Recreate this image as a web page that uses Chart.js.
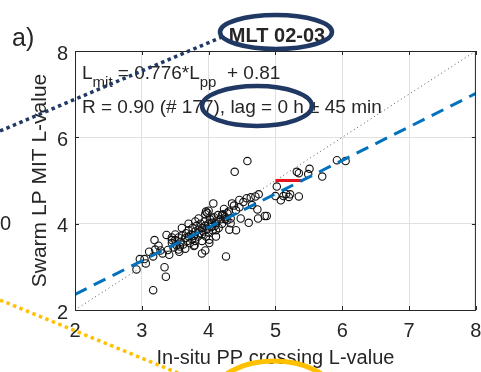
<!DOCTYPE html>
<html>
<head>
<meta charset="utf-8">
<script src="https://cdn.jsdelivr.net/npm/chart.js@4/dist/chart.umd.min.js"></script>
<style>
  html, body { margin: 0; padding: 0; background: #fff; }
  #wrap { width: 481px; height: 372px; position: relative; }
</style>
</head>
<body>
<div id="wrap"><canvas id="c" width="481" height="372"></canvas></div>
<script>
// Axis ticks
const xTickValues = [2, 3, 4, 5, 6, 7, 8];
const yTickValues = [2, 4, 6, 8];

// In-situ plasmapause crossing L (x) vs Swarm LP MIT L (y)
const insituL = [
  2.92, 2.97, 3.04, 3.06, 3.11, 3.17, 3.19, 3.25, 3.31, 3.34, 3.36, 3.17, 3.37, 3.39, 3.41,
  3.56, 3.57, 3.79, 3.90, 3.95, 4.01, 4.01, 4.11, 4.11, 4.11, 4.06, 3.96, 3.98, 4.07, 4.23,
  4.28, 4.33, 4.33, 4.26, 4.31, 4.41, 4.41, 4.46, 4.48, 4.60, 4.74, 4.84, 4.87, 4.73, 4.65,
  4.57, 4.63, 4.70, 4.75, 4.39, 4.58, 5.02, 5.00, 5.08, 5.12, 5.16, 5.22, 5.20, 5.35, 5.32,
  5.35, 5.49, 5.51, 5.70, 5.92, 6.05,
  4.35, 4.46, 4.52, 4.38, 4.20, 4.25, 3.20, 3.28, 3.45, 3.48,
  3.45, 3.50, 3.52, 3.55, 3.58, 3.60, 3.62, 3.65, 3.66, 3.68, 3.70, 3.70, 3.72, 3.74, 3.75,
  3.76, 3.78, 3.80, 3.80, 3.82, 3.84, 3.85, 3.86, 3.88, 3.90, 3.90, 3.92, 3.94, 3.95, 3.96,
  3.98, 4.00, 4.00, 4.02, 4.04, 4.05, 4.06, 4.08, 4.10, 4.12, 4.14, 4.15, 4.18, 4.20, 4.22,
  4.25, 4.28, 4.30, 3.60, 3.70, 3.80, 3.85, 3.95, 4.00, 3.90, 3.78, 3.65, 3.55, 3.50, 3.45
];
const swarmL = [
  2.94, 3.18, 3.18, 3.08, 3.35, 3.24, 3.62, 3.49, 3.31, 2.99, 2.77, 2.46, 3.74, 3.39, 3.28,
  3.35, 3.47, 3.50, 3.31, 3.38, 3.55, 3.63, 3.70, 3.85, 4.01, 4.12, 4.28, 4.25, 4.47, 4.34,
  4.24, 4.12, 4.01, 3.24, 3.86, 3.85, 4.31, 4.38, 4.12, 4.02, 4.12, 4.18, 4.18, 4.33, 4.43,
  4.59, 4.61, 4.63, 4.68, 5.20, 5.45, 4.86, 4.64, 4.54, 4.64, 4.69, 4.68, 4.62, 4.63, 5.20,
  5.17, 5.15, 5.27, 5.09, 5.47, 5.45,
  4.47, 4.55, 4.50, 4.42, 4.20, 4.10, 3.40, 3.38, 3.62, 3.45,
  3.55, 3.62, 3.50, 3.68, 3.58, 3.72, 3.52, 3.66, 3.78, 3.60, 3.70, 3.85, 3.55, 3.75, 3.64,
  3.90, 3.72, 3.82, 3.60, 3.95, 3.70, 3.86, 3.78, 4.00, 3.90, 3.75, 3.82, 4.05, 3.95, 3.70,
  3.88, 4.00, 3.80, 4.10, 3.92, 4.02, 3.85, 4.15, 3.95, 4.05, 4.20, 3.90, 4.10, 4.00, 4.22,
  4.15, 4.08, 4.28, 3.90, 4.00, 4.05, 4.12, 4.22, 4.30, 3.60, 3.48, 3.42, 3.40, 3.75, 3.68
];

// Linear fit L_mit = slope * L_pp + intercept
const fitSlope = 0.776;
const fitIntercept = 0.81;
const axisRange = [2, 8];

// Reference level segment
const refSegmentX = [5.0, 5.4];
const refSegmentY = [5.0, 5.0];

const FONT = "'Liberation Sans', Arial, Helvetica, sans-serif";
const TXT = '#262626';

const scatterData = insituL.map((x, i) => ({ x, y: swarmL[i] }));
const fitData = axisRange.map(x => ({ x, y: fitSlope * x + fitIntercept }));
const identityData = axisRange.map(v => ({ x: v, y: v }));
const refData = refSegmentX.map((x, i) => ({ x, y: refSegmentY[i] }));

// Box frame with inward tick marks, and the fit text block
const framePlugin = {
  id: 'frame',
  afterDatasetsDraw(chart) {
    const { ctx, chartArea: a, scales } = chart;
    ctx.save();
    ctx.strokeStyle = TXT;
    ctx.lineWidth = 1;
    ctx.strokeRect(a.left + 0.5, a.top + 0.5, a.right - a.left - 1, a.bottom - a.top);
    ctx.beginPath();
    xTickValues.forEach(v => {
      const px = Math.round(scales.x.getPixelForValue(v)) + 0.5;
      ctx.moveTo(px, a.bottom); ctx.lineTo(px, a.bottom - 4);
      ctx.moveTo(px, a.top); ctx.lineTo(px, a.top + 4);
    });
    yTickValues.forEach(v => {
      const py = Math.round(scales.y.getPixelForValue(v)) + 0.5;
      ctx.moveTo(a.left, py); ctx.lineTo(a.left + 4, py);
      ctx.moveTo(a.right, py); ctx.lineTo(a.right - 4, py);
    });
    ctx.stroke();

    // Fit annotation
    ctx.fillStyle = TXT;
    ctx.textBaseline = 'alphabetic';
    ctx.textAlign = 'left';
    const big = '19px ' + FONT, small = '15px ' + FONT;
    let x = a.left + 7;
    const y1 = 79, y2 = 113;
    const seg = (t, f, dy) => { ctx.font = f; ctx.fillText(t, x, y1 + dy); x += ctx.measureText(t).width; };
    seg('L', big, 0);
    seg('mit', small, 8);
    seg(' = ' + fitSlope + '*L', big, 0);
    seg('pp', small, 8);
    seg('  + ' + fitIntercept, big, 0);
    ctx.font = big;
    ctx.fillText('R = 0.90 (# 177), lag = 0 h \u00b1 45 min', a.left + 7, y2);

    // Panel label and title
    ctx.font = '25px ' + FONT;
    ctx.fillText('a)', 12, 46);
    ctx.font = 'bold 20px ' + FONT;
    ctx.textAlign = 'center';
    ctx.fillText('MLT 02-03', 277, 42);
    ctx.textAlign = 'left';
    ctx.font = '20px ' + FONT;
    ctx.fillText('0', 0, 230);
    ctx.restore();
  },
  afterDraw(chart) {
    const { ctx } = chart;
    ctx.save();
    // navy highlight marks
    ctx.strokeStyle = '#1f3864';
    ctx.lineWidth = 3.5;
    ctx.setLineDash([3.5, 3.5]);
    ctx.beginPath(); ctx.moveTo(0, 131); ctx.lineTo(222, 37); ctx.stroke();
    ctx.setLineDash([]);
    ctx.lineWidth = 4.5;
    ctx.beginPath(); ctx.ellipse(276, 32, 56, 17, 0, 0, Math.PI * 2); ctx.stroke();
    ctx.beginPath(); ctx.ellipse(257, 106, 55, 20, 0, 0, Math.PI * 2); ctx.stroke();
    // yellow highlight marks
    ctx.strokeStyle = '#ffc000';
    ctx.lineWidth = 3.5;
    ctx.setLineDash([3.5, 3.5]);
    ctx.beginPath(); ctx.moveTo(0, 300); ctx.lineTo(178, 373); ctx.stroke();
    ctx.setLineDash([]);
    ctx.lineWidth = 5;
    ctx.beginPath(); ctx.ellipse(274, 395, 60, 34, 0, Math.PI, Math.PI * 2); ctx.stroke();
    ctx.restore();
  }
};

// Fix the axis boxes so the plot frame spans the full panel
const fitX = s => { s.height = 62; s.paddingLeft = 0; s.paddingRight = 0; };
const fitY = s => { s.width = 75; s.paddingTop = 0; s.paddingBottom = 0; };

new Chart(document.getElementById('c'), {
  type: 'scatter',
  data: {
    datasets: [
      { type: 'line', data: fitData, borderColor: '#0072bd', borderWidth: 3, borderDash: [13, 8],
        pointRadius: 0, fill: false },
      { type: 'line', data: refData, borderColor: '#e8141b', borderWidth: 3,
        pointRadius: 0, fill: false },
      { type: 'line', data: identityData, borderColor: '#555', borderWidth: 1, borderDash: [1, 3],
        pointRadius: 0, fill: false },
      { data: scatterData, pointStyle: 'circle', pointRadius: 3.7, borderColor: '#111',
        borderWidth: 1.1, backgroundColor: 'rgba(0,0,0,0)' }
    ]
  },
  options: {
    responsive: false,
    animation: false,
    layout: { padding: { left: 0, right: 2, top: 51, bottom: 0 } },
    plugins: { legend: { display: false }, tooltip: { enabled: false } },
    scales: {
      x: {
        type: 'linear', min: 2, max: 8,
        afterBuildTicks: s => { s.ticks = xTickValues.map(v => ({ value: v })); },
        afterFit: fitX,
        grid: { color: '#e0e0e0', drawTicks: false },
        border: { display: false },
        ticks: { color: TXT, font: { family: FONT, size: 20 }, padding: 9 },
        title: { display: true, text: 'In-situ PP crossing L-value', color: TXT,
                 font: { family: FONT, size: 20 }, padding: { top: 0, bottom: 2 } }
      },
      y: {
        type: 'linear', min: 2, max: 8,
        afterBuildTicks: s => { s.ticks = yTickValues.map(v => ({ value: v })); },
        afterFit: fitY,
        grid: { color: '#e0e0e0', drawTicks: false },
        border: { display: false },
        ticks: { color: TXT, font: { family: FONT, size: 20 }, padding: 7, labelOffset: 3 },
        title: { display: true, text: 'Swarm LP MIT L-value', color: TXT,
                 font: { family: FONT, size: 21 }, padding: { top: 28, bottom: 0 } }
      }
    }
  },
  plugins: [framePlugin]
});
</script>
</body>
</html>
